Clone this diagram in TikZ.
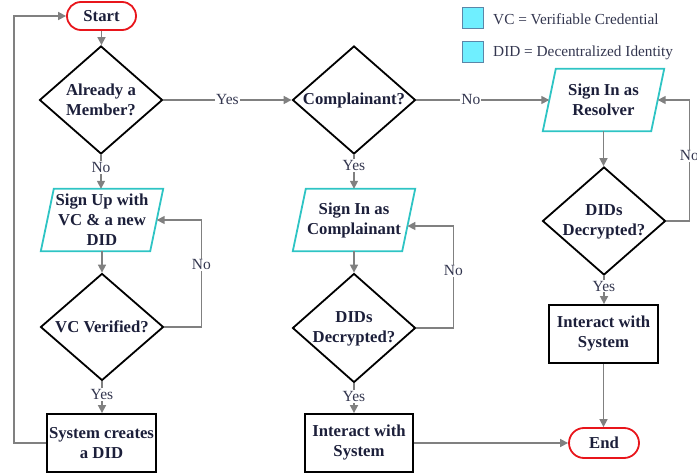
\documentclass[tikz,border=0pt]{standalone}
\usepackage{fontspec}
\setmainfont{LiberationSerif}[Extension=.ttf, UprightFont=*-Regular, BoldFont=*-Bold, ItalicFont=*-Italic, BoldItalicFont=*-BoldItalic]
\usetikzlibrary{shapes.geometric,shapes.misc,arrows.meta}
\definecolor{navy}{HTML}{1C1F3A}
\definecolor{labc}{HTML}{33364F}
\definecolor{linegray}{HTML}{808080}
\definecolor{tealc}{HTML}{2EC4C4}
\definecolor{redc}{HTML}{E8151B}
\definecolor{legfill}{HTML}{6FEFFF}
\definecolor{legedge}{HTML}{5B86A8}
\begin{document}
\begin{tikzpicture}[x=1pt,y=-1pt,
 txt/.style={font=\fontsize{16.7}{20}\selectfont\bfseries, text=navy, align=center, inner sep=0pt},
 term/.style={txt, rounded rectangle, draw=redc, line width=1.8pt, minimum width=69pt, minimum height=28pt},
 dia/.style={diamond, draw=black, line width=1.8pt, inner sep=0pt, minimum width=123pt, minimum height=108pt},
 io/.style={txt, minimum width=122pt, minimum height=62pt},
 iobox/.style={draw=tealc, line width=1.8pt},
 proc/.style={txt, draw=black, line width=1.8pt, minimum width=109pt, minimum height=58pt},
 arr/.style={draw=linegray, line width=1.6pt, -{Triangle[length=8pt,width=8pt]}},
 lab/.style={font=\fontsize{15.5}{18}\selectfont, text=labc, fill=white, inner sep=1pt},
 legbox/.style={draw=legedge, fill=legfill, line width=1pt, minimum size=21pt, inner sep=0pt},
 legtxt/.style={font=\fontsize{15.3}{18}\selectfont, text=labc, anchor=west, inner sep=0pt},
 ]
\useasboundingbox (0,0) rectangle (697,473);

% legend
\node[legbox] (l1) at (472.5,18.5) {};
\node[legbox] (l2) at (472.5,52.5) {};
\node[legtxt] (lt1) at (493,19) {VC = Verifiable Credential};
\node[legtxt] (lt2) at (493,53) {DID = Decentralized Identity};

% terminals
\node[term] (start) at (101.5,16) {Start};
\node[term, minimum width=70pt, minimum height=30pt] (end) at (604,443) {End};

% diamonds
\node[dia] (d1) at (101,100) {};
\node[txt] (t1) at (d1) {Already a\\Member?};
\node[dia] (d2) at (354,100) {};
\node[txt] (t2) at (d2) {Complainant?};
\node[dia] (d3) at (604,221) {};
\node[txt] (t3) at (604,222) {DIDs\\Decrypted?};
\node[dia, minimum height=107pt] (d4) at (102,327) {};
\node[txt] (t4) at (d4) {VC Verified?};
\node[dia, minimum height=109pt] (d5) at (354,328) {};
\node[txt] (t5) at (354,329) {DIDs\\Decrypted?};

% parallelograms
\node[io] (p1) at (102,220) {Sign Up with\\VC \& a new\\DID};
\draw[iobox] ([xshift=13pt]p1.north west) -- (p1.north east) -- ([xshift=-13pt]p1.south east) -- (p1.south west) -- cycle;
\node[io] (p2) at (354,220) {Sign In as\\Complainant};
\draw[iobox] ([xshift=13pt]p2.north west) -- (p2.north east) -- ([xshift=-13pt]p2.south east) -- (p2.south west) -- cycle;
\node[io, minimum width=121pt] (p3) at (603.5,100) {Sign In as\\Resolver};
\draw[iobox] ([xshift=13pt]p3.north west) -- (p3.north east) -- ([xshift=-13pt]p3.south east) -- (p3.south west) -- cycle;

% process boxes
\node[proc] (b1) at (101.5,443) {System creates\\a DID};
\node[proc, minimum width=108pt] (b2) at (359,443) {Interact with\\System};
\node[proc] (b3) at (603.5,334) {Interact with\\System};

% connectors left
\draw[arr] (start.south) -- (start.south |- d1.north);
\draw[arr] (d1.south) -- node[lab,pos=0.37]{No} (d1.south |- p1.north);
\draw[arr] (p1.south) -- (d4.north);
\draw[arr] (d4.south) -- node[lab,pos=0.41]{Yes} (d4.south |- b1.north);
\draw[arr] (d4.east) -- ++(37,0) |- node[lab,pos=0.29]{No} ([xshift=-6.5pt]p1.east);
\draw[arr] (b1.west) -- ++(-32,0) |- (start.west);

% connectors middle
\draw[arr] (d1.east) -- node[lab,pos=0.5]{Yes} (d2.west);
\draw[arr] (d2.south) -- node[lab,pos=0.31]{Yes} (d2.south |- p2.north);
\draw[arr] (p2.south) -- (d5.north);
\draw[arr] (d5.south) -- node[lab,pos=0.44]{Yes} (d5.south |- b2.north);
\draw[arr] (d5.east) -- ++(37,0) |- node[lab,pos=0.28]{No} ([xshift=-7.8pt,yshift=-6pt]p2.east);
\draw[arr] (b2.east) -- (end.west);

% connectors right
\draw[arr] (d2.east) -- node[lab,pos=0.41]{No} ([xshift=6.5pt]p3.west);
\draw[arr] (p3.south) -- (p3.south |- d3.north);
\draw[arr] (d3.south) -- node[lab,pos=0.37]{Yes} (d3.south |- b3.north);
\draw[arr] (d3.east) -- ++(23,0) |- node[lab,pos=0.27]{No} ([xshift=-6.5pt]p3.east);
\draw[arr] (b3.south) -- (b3.south |- end.north);
\end{tikzpicture}
\end{document}
